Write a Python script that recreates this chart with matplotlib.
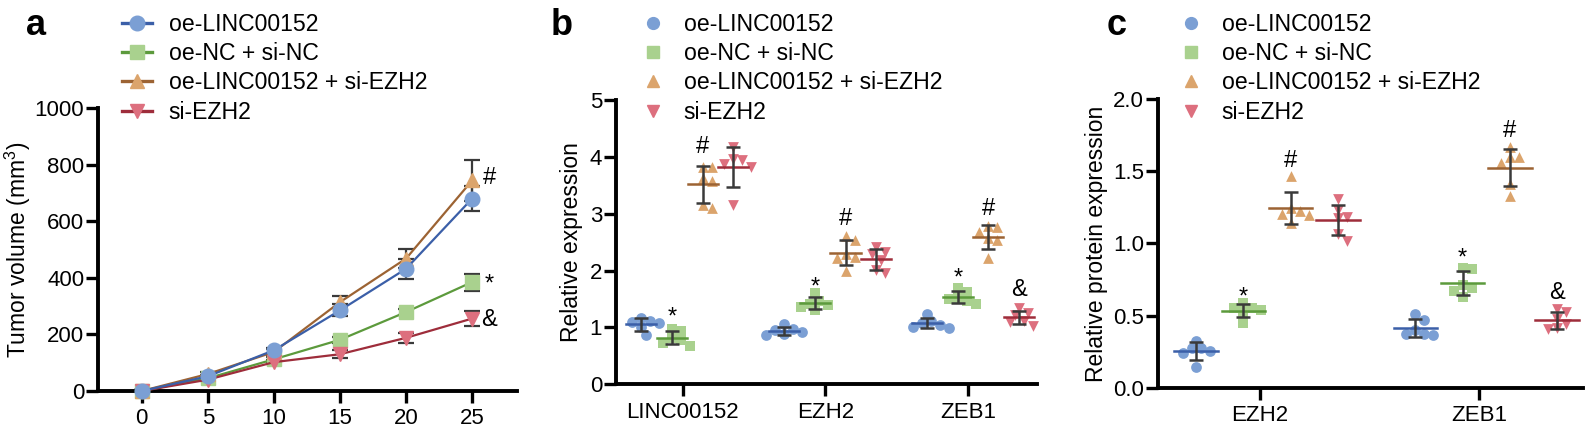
import numpy as np
import matplotlib
matplotlib.use('Agg')
import matplotlib.pyplot as plt
from matplotlib.lines import Line2D

plt.rcParams['font.family'] = ['Liberation Sans', 'DejaVu Sans']
plt.rcParams['mathtext.fontset'] = 'custom'
plt.rcParams['mathtext.rm'] = 'Liberation Sans'
plt.rcParams['mathtext.it'] = 'Liberation Sans:italic'

groups = ['oe-LINC00152', 'oe-NC + si-NC', 'oe-LINC00152 + si-EZH2', 'si-EZH2']
fills = ['#7b9fd4', '#a9d18e', '#dba46c', '#dd6f7e']
darks = ['#3b5fa8', '#5c9a3c', '#9c6333', '#9e2d3b']
markers = ['o', 's', '^', 'v']
errc = '#3a3a3a'

# panel a: tumour volume over time
days = [0, 5, 10, 15, 20, 25]
vol_mean = [
    [0, 52, 144, 285, 432, 680],
    [0, 45, 112, 181, 279, 385],
    [0, 60, 138, 314, 468, 744],
    [0, 40, 102, 130, 188, 256],
]
vol_sd = [
    [3, 6, 9, 21, 35, 45],
    [2, 5, 8, 10, 12, 30],
    [3, 6, 9, 20, 35, 71],
    [2, 5, 7, 15, 18, 25],
]
vol_marks = [('#', 760), ('*', 403), ('&', 261)]

# panel b: relative expression, six points per group
b_genes = ['LINC00152', 'EZH2', 'ZEB1']
b_oe_linc = [[1.10, 1.16, 1.08, 1.12, 1.00, 0.86],
             [0.98, 1.06, 0.95, 0.92, 0.88, 0.86],
             [1.24, 1.11, 1.08, 1.05, 1.01, 0.99]]
b_nc = [[0.97, 0.93, 0.81, 0.78, 0.73, 0.68],
        [1.60, 1.47, 1.42, 1.39, 1.36, 1.30],
        [1.70, 1.62, 1.52, 1.50, 1.46, 1.41]]
b_oe_si = [[3.82, 3.82, 3.63, 3.58, 3.15, 3.10],
           [2.60, 2.53, 2.30, 2.24, 2.22, 1.99],
           [2.78, 2.77, 2.68, 2.57, 2.53, 2.23]]
b_si = [[4.18, 3.97, 3.94, 3.87, 3.83, 3.15],
        [2.42, 2.33, 2.30, 2.19, 2.01, 1.96],
        [1.35, 1.25, 1.22, 1.12, 1.10, 1.03]]
b_marks = [(0, 1, '*', 1.31), (0, 2, '#', 4.22), (1, 1, '*', 1.83), (1, 2, '#', 2.95),
           (2, 1, '*', 2.00), (2, 2, '#', 3.12), (2, 3, '&', 1.70)]

# panel c: relative protein expression
c_genes = ['EZH2', 'ZEB1']
c_oe_linc = [[0.326, 0.277, 0.273, 0.256, 0.238, 0.141],
             [0.509, 0.469, 0.400, 0.372, 0.372, 0.365]]
c_nc = [[0.589, 0.554, 0.550, 0.538, 0.527, 0.450],
        [0.830, 0.820, 0.710, 0.690, 0.670, 0.630]]
c_oe_si = [[1.467, 1.243, 1.225, 1.197, 1.204, 1.139],
           [1.666, 1.597, 1.597, 1.555, 1.412, 1.329]]
c_si = [[1.307, 1.231, 1.185, 1.173, 1.062, 1.018],
        [0.545, 0.522, 0.476, 0.441, 0.412, 0.405]]
c_marks = [(0, 1, '*', 0.68), (0, 2, '#', 1.59), (1, 1, '*', 0.95),
           (1, 2, '#', 1.80), (1, 3, '&', 0.672)]

offsets = [-0.29, -0.075, 0.14, 0.355]
TICK = 16
LAB = 16.5
LEG = 16.6
MARK = 17


def style(ax):
    for s in ['top', 'right']:
        ax.spines[s].set_visible(False)
    for s in ['left', 'bottom']:
        ax.spines[s].set_linewidth(2.8)
    ax.tick_params(width=2.4, length=8.5, labelsize=TICK, pad=1.5, color='black')


def mark(ax, x, y, txt):
    # y is where the glyph centre should sit
    dy = 0.57 if txt == '*' else 0.36
    ax.annotate(txt, (x, y), xytext=(0, -dy * MARK), textcoords='offset points',
                ha='center', va='baseline', fontsize=MARK)


def swarm(ax, xc, vals, diam_px):
    # simple beeswarm: spread points sideways when they collide
    fig.canvas.draw()
    px_per_x = ax.transData.transform((1, 0))[0] - ax.transData.transform((0, 0))[0]
    ypx = [ax.transData.transform((0, v))[1] for v in vals]
    placed = []
    xs = [0.0] * len(vals)
    for i in np.argsort(ypx)[::-1]:
        cands = [0.0]
        for k in range(1, 8):
            cands += [k * diam_px / 2, -k * diam_px / 2]
        for c in cands:
            if all((c - px) ** 2 + (ypx[i] - py) ** 2 >= (diam_px * 0.9) ** 2 for px, py in placed):
                xs[i] = c
                break
        placed.append((xs[i], ypx[i]))
    return [xc + x / px_per_x for x in xs]


def dotplot(ax, genes, series, marks, ylim, halfw):
    ax.set_xlim(-0.465, len(genes) - 1 + (0.48 if len(genes) == 3 else 0.475))
    ax.set_ylim(*ylim)
    for g, data in enumerate(series):
        for i, vals in enumerate(data):
            xc = i + offsets[g]
            m = np.mean(vals)
            sd = np.std(vals, ddof=1)
            xs = swarm(ax, xc, vals, 9.0)
            ax.scatter(xs, vals, s=60, marker=markers[g], color=fills[g], linewidths=0,
                       zorder=2, clip_on=False)
            ax.plot([xc - halfw, xc + halfw], [m, m], color=darks[g], lw=1.8, zorder=3)
            ax.errorbar(xc, m, yerr=sd, fmt='none', ecolor=errc, elinewidth=1.8,
                        capsize=5, capthick=1.8, zorder=4)
    for i, g, txt, y in marks:
        mark(ax, i + offsets[g], y, txt)
    ax.set_xticks(range(len(genes)))
    ax.set_xticklabels(genes)
    ax.tick_params(axis='x', pad=4)


fig = plt.figure(figsize=(15.94, 4.32), dpi=100)
axa = fig.add_axes([0.0615, 0.0949, 0.2629, 0.655])
axb = fig.add_axes([0.3865, 0.1104, 0.2641, 0.658])
axc = fig.add_axes([0.7265, 0.1025, 0.2666, 0.668])
for ax in (axa, axb, axc):
    style(ax)

# panel a
for g in range(4):
    axa.errorbar(days, vol_mean[g], yerr=vol_sd[g], fmt='none', ecolor=errc,
                 elinewidth=1.6, capsize=6, capthick=1.6, zorder=2)
    axa.plot(days, vol_mean[g], color=darks[g], lw=1.6, marker=markers[g], ms=10.5,
             mfc=fills[g], mec=fills[g], zorder=3 + (g == 0), clip_on=False)
for txt, y in vol_marks:
    mark(axa, 26.3, y, txt)
axa.set_xlim(-3.3, 28.4)
axa.set_ylim(0, 1000)
axa.set_xticks(days)
axa.set_yticks(range(0, 1001, 200))
axa.tick_params(axis='x', pad=4)
axa.set_ylabel('Tumor volume (mm$^3$)', fontsize=LAB, labelpad=1)
ha = [Line2D([], [], color=darks[g], lw=2.4, marker=markers[g], ms=10.5, mfc=fills[g],
             mec=fills[g]) for g in range(4)]
axa.legend(ha, groups, loc='upper left', bbox_to_anchor=(0.0765, 0.970),
           bbox_transform=fig.transFigure, frameon=False, fontsize=LEG, handlelength=1.32,
           handletextpad=0.70, labelspacing=0.27, borderpad=0, borderaxespad=0)

# panel b
dotplot(axb, b_genes, [b_oe_linc, b_nc, b_oe_si, b_si], b_marks, (0, 5), 0.105)
axb.set_yticks(range(0, 6))
axb.set_ylabel('Relative expression', fontsize=LAB, labelpad=5)

# panel c
dotplot(axc, c_genes, [c_oe_linc, c_nc, c_oe_si, c_si], c_marks, (0, 2), 0.1)
axc.set_yticks([0, 0.5, 1.0, 1.5, 2.0])
axc.set_yticklabels(['0.0', '0.5', '1.0', '1.5', '2.0'])
axc.set_ylabel('Relative protein expression', fontsize=LAB, labelpad=4)

for ax, x0 in ((axb, 0.4025), (axc, 0.7400)):
    hs = [Line2D([], [], ls='none', marker=markers[g], ms=8.5, mfc=fills[g], mec=fills[g])
          for g in range(4)]
    ax.legend(hs, groups, loc='upper left', bbox_to_anchor=(x0, 0.970),
              bbox_transform=fig.transFigure, frameon=False, fontsize=LEG, handlelength=1.0,
              handletextpad=0.82, labelspacing=0.27, borderpad=0, borderaxespad=0)

for txt, x in (('a', 0.016), ('b', 0.3455), ('c', 0.6945)):
    fig.text(x, 0.94, txt, fontsize=26, fontweight='bold', va='center')

fig.savefig('out.png', dpi=100)
